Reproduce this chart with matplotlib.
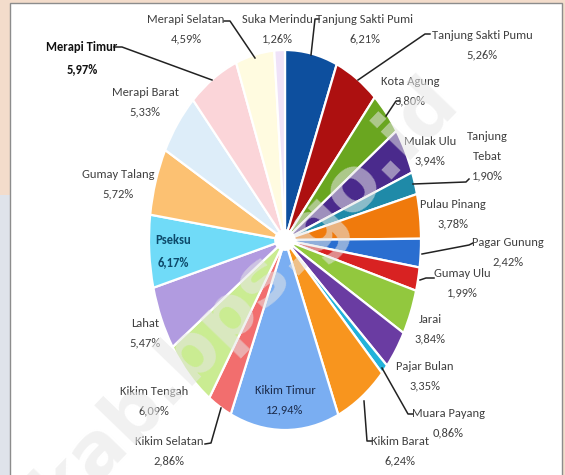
import matplotlib
matplotlib.use("Agg")
import matplotlib.pyplot as plt
from matplotlib import font_manager
from matplotlib.patches import Rectangle, Ellipse
from matplotlib.lines import Line2D

# data: share per kecamatan (%), clockwise from 12 o'clock
kecamatan = ["Tanjung Sakti Pumi", "Tanjung Sakti Pumu", "Kota Agung", "Mulak Ulu",
             "Tanjung\nTebat", "Pulau Pinang", "Pagar Gunung", "Gumay Ulu", "Jarai",
             "Pajar Bulan", "Muara Payang", "Kikim Barat", "Kikim Timur", "Kikim Selatan",
             "Kikim Tengah", "Lahat", "Pseksu", "Gumay Talang", "Merapi Barat",
             "Merapi Timur", "Merapi Selatan", "Suka Merindu"]
persen = [6.21, 5.26, 3.80, 3.94, 1.90, 3.78, 2.42, 1.99, 3.84, 3.35, 0.86, 6.24,
          12.94, 2.86, 6.09, 5.47, 6.17, 5.72, 5.33, 5.97, 4.59, 1.26]
warna = ["#0d4f9e", "#ad1010", "#6aa620", "#4a2a8c", "#1f8aa8", "#f07a0c", "#2a6ed0",
         "#d82222", "#92c83e", "#6a3ca2", "#22b2da", "#f8951e", "#7aaef2", "#f26e6e",
         "#caec92", "#b19be0", "#70dbf8", "#fcc172", "#ddedf9", "#fbd5d9", "#fffbe0",
         "#efe2f8"]

W, H = 565, 475

def px(x, y):
    return (x / W, 1 - y / H)

# label layout: (center x, center y) in pixels
label_pos = [(365, 29), (482, 45), (410, 91), (430, 151), (487, 156), (453, 214),
             (508, 252), (462, 283), (430, 329), (425, 376), (448, 423), (400, 451),
             (285, 400), (169, 451), (154, 401), (145, 333), (173, 251), (118, 184),
             (145, 102), (82, 58), (186, 29), (277, 29)]

leaders = {
    0: [(319, 19), (315, 19), (311, 55)],
    1: [(430, 34), (425, 34), (358, 80)],
    2: [(400, 101), (396, 101), (386, 116)],
    4: [(413, 184), (466, 182), (469, 179)],
    6: [(422, 254), (469, 245), (473, 243)],
    7: [(420, 280), (426, 278), (434, 278)],
    10: [(413, 414), (408, 414), (382, 368)],
    11: [(372, 441), (367, 441), (364, 401)],
    13: [(205, 444), (211, 443), (221, 408)],
    19: [(114, 47), (122, 47), (212, 80)],
    20: [(224, 21), (230, 21), (255, 58)],
}

names = {f.name for f in font_manager.fontManager.ttflist}
font = [n for n in ["Carlito", "Liberation Sans Narrow", "Asap Condensed", "Archivo Narrow"]
        if n in names][:1] + ["DejaVu Sans"]
plt.rcParams['font.family'] = font

fig = plt.figure(figsize=(W / 100, H / 100), dpi=100)
fig.patch.set_facecolor("#f3dccb")
fig.patches.append(Rectangle((0, 0), 10 / W, 280 / H, transform=fig.transFigure,
                             facecolor="#dfe3ea", edgecolor="none", zorder=0))
fig.patches.append(Rectangle(px(10, 480), 552 / W, 477 / H, transform=fig.transFigure,
                             facecolor="white", edgecolor="#8c8c8c", lw=1, zorder=0))

# elliptical pie: 272 x 380 px centred at (285, 240)
ax = fig.add_axes([149 / W, 45 / H, 272 / W, 380 / H])
ax.set_zorder(3)
ax.pie(persen, colors=warna, startangle=90, counterclock=False,
       wedgeprops=dict(edgecolor="white", linewidth=1.6))
ax.add_patch(Ellipse((0, 0), 0.16, 0.115, facecolor="white", edgecolor="none", zorder=5))
ax.set_aspect("auto")
ax.set_xlim(-1, 1)
ax.set_ylim(-1, 1)
ax.axis("off")

for i, (nm, p) in enumerate(zip(kecamatan, persen)):
    x, y = label_pos[i]
    txt = f"{nm}\n{p:.2f}%".replace(".", ",")
    color, weight = "#404040", "normal"
    if nm == "Merapi Timur":
        color, weight = "#111111", "bold"
    elif nm == "Pseksu":
        color, weight = "#0d4a6b", "bold"
    elif nm == "Kikim Timur":
        color = "#1b2b4b"
    fig.text(*px(x, y), txt, ha="center", va="center", fontsize=9,
             color=color, fontweight=weight, linespacing=1.95, zorder=6)

for i, pts in leaders.items():
    xs = [px(a, b)[0] for a, b in pts]
    ys = [px(a, b)[1] for a, b in pts]
    fig.lines.append(Line2D(xs, ys, transform=fig.transFigure, color="#222222", lw=1.1, zorder=6))

# watermark
fig.text(*px(445, 88), "lahatkab.bps.go.id", ha="right", va="center", rotation=46,
         rotation_mode="anchor", fontsize=54, fontweight="bold", family="DejaVu Sans",
         color="#e6e6e6", alpha=0.55, zorder=7)

fig.savefig("out.png", dpi=100, facecolor=fig.get_facecolor())
